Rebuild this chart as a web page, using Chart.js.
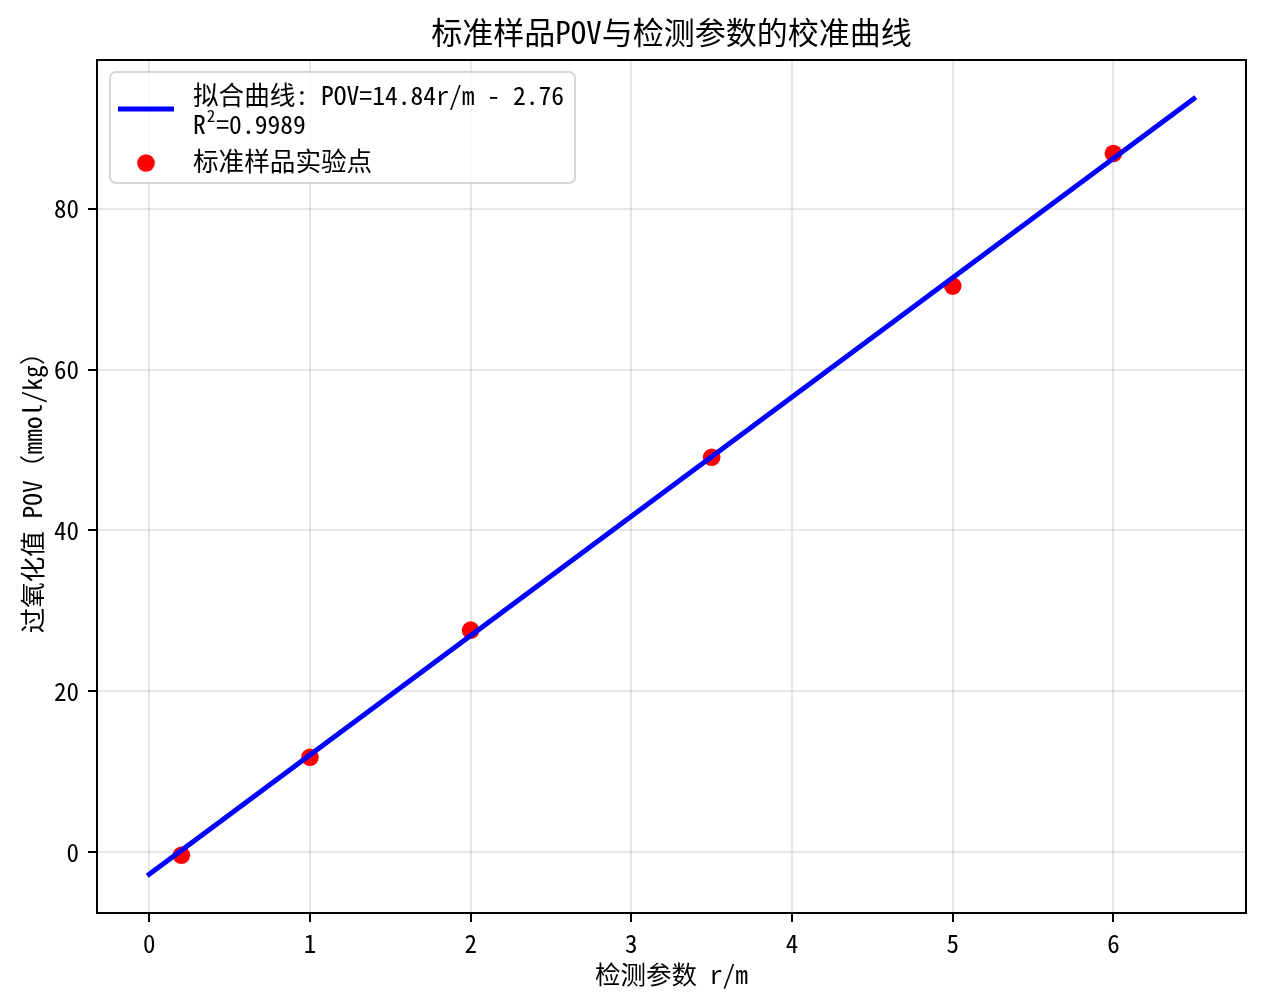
<!DOCTYPE html>
<html>
<head>
<meta charset="utf-8">
<script src="https://cdn.jsdelivr.net/npm/chart.js@4.4.1/dist/chart.umd.min.js"></script>
<style>
html,body{margin:0;padding:0;background:#fff;}
#wrap{width:1265px;height:1006px;}
canvas{display:block;}
</style>
</head>
<body>
<div id="wrap"><canvas id="c" width="1265" height="1006"></canvas></div>
<script>
// ---- data ----
const sampleX = [0.2, 1, 2, 3.5, 5, 6];
const sampleY = [-0.4, 11.8, 27.6, 49.1, 70.4, 86.9];
const fitSlope = 14.84;
const fitIntercept = -2.76;
const fitR2 = 0.9989;
const fitX = [0, 6.5];
const xTicks = [0, 1, 2, 3, 4, 5, 6];
const yTicks = [0, 20, 40, 60, 80];
const titleText = '标准样品POV与检测参数的校准曲线';
const xLabel = '检测参数 r/m';
const yLabel = '过氧化值 POV（mmol/kg）';
const fitLabel = '拟合曲线: POV=' + fitSlope.toFixed(2) + 'r/m - ' + Math.abs(fitIntercept).toFixed(2);
const r2Value = '=' + fitR2.toFixed(4);
const scatterLabel = '标准样品实验点';

const FONT = "'Noto Sans Mono CJK SC', 'Noto Sans CJK SC', 'DejaVu Sans', sans-serif";

const fitPoints = fitX.map(x => ({x: x, y: fitSlope * x + fitIntercept}));
const scatterPoints = sampleX.map((x, i) => ({x: x, y: sampleY[i]}));

// matplotlib-like 5% auto margins
const allX = fitX.concat(sampleX);
const allY = fitPoints.map(p => p.y).concat(sampleY);
const xMinD = Math.min(...allX), xMaxD = Math.max(...allX);
const yMinD = Math.min(...allY), yMaxD = Math.max(...allY);
const xPad = (xMaxD - xMinD) * 0.05, yPad = (yMaxD - yMinD) * 0.05;

const LINE_BLUE = '#0000ff';
const DOT_RED = '#ff0000';

const mplDecor = {
  id: 'mplDecor',
  afterDatasetsDraw(chart) {
    const ctx = chart.ctx;
    const a = chart.chartArea;
    ctx.save();
    // frame
    ctx.strokeStyle = '#000';
    ctx.lineWidth = 2;
    ctx.strokeRect(a.left, a.top, a.right - a.left, a.bottom - a.top);

    // legend box
    const bx = 110, by = 72, bw = 465, bh = 111, r = 6;
    ctx.beginPath();
    ctx.moveTo(bx + r, by);
    ctx.lineTo(bx + bw - r, by);
    ctx.arcTo(bx + bw, by, bx + bw, by + r, r);
    ctx.lineTo(bx + bw, by + bh - r);
    ctx.arcTo(bx + bw, by + bh, bx + bw - r, by + bh, r);
    ctx.lineTo(bx + r, by + bh);
    ctx.arcTo(bx, by + bh, bx, by + bh - r, r);
    ctx.lineTo(bx, by + r);
    ctx.arcTo(bx, by, bx + r, by, r);
    ctx.closePath();
    ctx.fillStyle = 'rgba(255,255,255,0.8)';
    ctx.fill();
    ctx.strokeStyle = '#d6d6d6';
    ctx.lineWidth = 2;
    ctx.stroke();

    // line handle
    ctx.beginPath();
    ctx.strokeStyle = LINE_BLUE;
    ctx.lineWidth = 5;
    ctx.lineCap = 'butt';
    ctx.moveTo(118, 109);
    ctx.lineTo(174, 109);
    ctx.stroke();

    // marker handle
    ctx.beginPath();
    ctx.fillStyle = DOT_RED;
    ctx.arc(146, 163, 8.8, 0, Math.PI * 2);
    ctx.fill();

    // texts
    ctx.fillStyle = '#000';
    ctx.textAlign = 'left';
    ctx.textBaseline = 'middle';
    ctx.font = '25.6px ' + FONT;
    ctx.fillText(fitLabel, 193, 95);
    ctx.fillText('R', 193, 124);
    const rw = ctx.measureText('R').width;
    ctx.font = '17px ' + FONT;
    ctx.fillText('2', 193 + rw + 1, 116);
    const sw = ctx.measureText('2').width;
    ctx.font = '25.6px ' + FONT;
    ctx.fillText(r2Value, 193 + rw + sw + 2, 124);
    ctx.fillText(scatterLabel, 193, 161);
    ctx.restore();
  }
};

const tickFont = {family: FONT, size: 25};
const labelFont = {family: FONT, size: 25.5};
const gridCfg = {
  color: 'rgba(176,176,176,0.3)',
  lineWidth: 2,
  drawTicks: true,
  tickLength: 9,
  tickColor: '#000',
  tickWidth: 2
};

new Chart(document.getElementById('c'), {
  data: {
    datasets: [
      {
        type: 'line',
        label: fitLabel,
        data: fitPoints,
        borderColor: LINE_BLUE,
        backgroundColor: LINE_BLUE,
        borderWidth: 5,
        borderCapStyle: 'square',
        pointRadius: 0,
        fill: false,
        tension: 0,
        order: 0
      },
      {
        type: 'scatter',
        label: scatterLabel,
        data: scatterPoints,
        backgroundColor: DOT_RED,
        borderWidth: 0,
        pointRadius: 8.8,
        pointHoverRadius: 8.8,
        order: 1
      }
    ]
  },
  options: {
    responsive: false,
    devicePixelRatio: 1,
    animation: false,
    events: [],
    layout: {padding: {left: 0, top: 0, right: 19, bottom: 0}},
    plugins: {
      legend: {display: false},
      tooltip: {enabled: false},
      title: {
        display: true,
        fullSize: false,
        text: titleText,
        color: '#000',
        font: {family: FONT, size: 31, weight: 'normal', lineHeight: 1.2},
        padding: {top: 14, bottom: 8.8}
      }
    },
    scales: {
      x: {
        type: 'linear',
        position: 'bottom',
        min: xMinD - xPad,
        max: xMaxD + xPad,
        afterBuildTicks: s => { s.ticks = xTicks.map(v => ({value: v})); },
        afterFit: s => { s.height = 93; },
        ticks: {font: tickFont, color: '#000', padding: 6, maxRotation: 0, autoSkip: false},
        grid: gridCfg,
        border: {display: false},
        title: {display: true, text: xLabel, color: '#000', font: Object.assign({lineHeight: 1.2}, labelFont), padding: {top: 0, bottom: 16}}
      },
      y: {
        type: 'linear',
        position: 'left',
        min: yMinD - yPad,
        max: yMaxD + yPad,
        afterBuildTicks: s => { s.ticks = yTicks.map(v => ({value: v})); },
        afterFit: s => { s.width = 97; },
        ticks: {font: tickFont, color: '#000', padding: 9, autoSkip: false},
        grid: gridCfg,
        border: {display: false},
        title: {display: true, text: yLabel, color: '#000', font: Object.assign({lineHeight: 1.2}, labelFont), padding: {top: 17, bottom: 0}}
      }
    }
  },
  plugins: [mplDecor]
});
</script>
</body>
</html>
